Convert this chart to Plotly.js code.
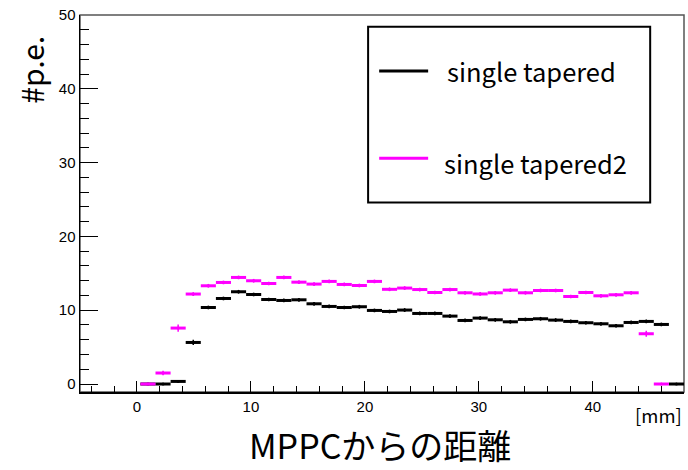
<!DOCTYPE html>
<html>
<head>
<meta charset="utf-8">
<script src="https://cdn.plot.ly/plotly-3.0.1.min.js"></script>
<style>
  html, body { margin: 0; padding: 0; background: #fff; }
  #chart { width: 688px; height: 470px; }
</style>
</head>
<body>
<div id="chart"></div>
<script>
// Histogram binning: 40 bins between -5 and 48 mm
const nBins = 40;
const xLow = -5;
const xHigh = 48;

// Mean photo-electron count per bin (null = empty bin, not drawn)
const taperedValues = [
  null, null, null, null, 0, 0, 0.35, 5.63, 10.37, 11.59,
  12.5, 12.13, 11.45, 11.32, 11.41, 10.87, 10.51, 10.37, 10.47, 9.97,
  9.83, 10.02, 9.56, 9.56, 9.2, 8.61, 8.93, 8.7, 8.43, 8.75,
  8.84, 8.66, 8.48, 8.3, 8.16, 7.89, 8.34, 8.48, 8.07, 0
];
const taperedErrors = [
  0, 0, 0, 0, 0, 0, 0.15, 0.36, 0.25, 0.25,
  0.25, 0.25, 0.25, 0.25, 0.25, 0.25, 0.25, 0.25, 0.25, 0.25,
  0.25, 0.25, 0.25, 0.25, 0.25, 0.25, 0.25, 0.25, 0.25, 0.25,
  0.25, 0.25, 0.25, 0.25, 0.25, 0.25, 0.25, 0.25, 0.25, 0
];

const tapered2Values = [
  null, null, null, null, 0, 1.49, 7.58, 12.19, 13.31, 13.76,
  14.44, 13.99, 13.62, 14.44, 13.8, 13.54, 13.9, 13.49, 13.35, 13.9,
  12.83, 13.0, 12.8, 12.4, 12.8, 12.36, 12.2, 12.36, 12.72, 12.36,
  12.67, 12.67, 11.86, 12.4, 11.95, 12.09, 12.36, 6.81, 0, null
];
const tapered2Errors = [
  0, 0, 0, 0, 0, 0.3, 0.5, 0.25, 0.25, 0.25,
  0.25, 0.25, 0.25, 0.25, 0.25, 0.25, 0.25, 0.25, 0.25, 0.25,
  0.25, 0.25, 0.25, 0.25, 0.25, 0.25, 0.25, 0.25, 0.25, 0.25,
  0.25, 0.25, 0.25, 0.25, 0.25, 0.25, 0.25, 0.4, 0, 0
];

const seriesNames = ['single tapered', 'single tapered2'];
const xTitle = 'MPPCからの距離';
const yTitle = '#p.e.';
const xUnit = '[mm]';
const xTickValues = [0, 10, 20, 30, 40];
const yTickValues = [0, 10, 20, 30, 40, 50];

const binWidth = (xHigh - xLow) / nBins;
const binCenters = Array.from({length: nBins}, (_, i) => xLow + (i + 0.5) * binWidth);

function histTrace(values, errors, color) {
  const x = [], y = [], ey = [], ex = [];
  values.forEach((v, i) => {
    if (v === null) return;
    x.push(binCenters[i]);
    y.push(v);
    ey.push(errors[i]);
    ex.push(binWidth / 2);
  });
  return {
    type: 'scatter',
    mode: 'markers',
    x: x,
    y: y,
    showlegend: false,
    hoverinfo: 'x+y',
    marker: {color: color, size: 3},
    error_x: {type: 'data', array: ex, symmetric: true, color: color, thickness: 3, width: 0},
    error_y: {type: 'data', array: ey, symmetric: true, color: color, thickness: 1.5, width: 0}
  };
}

const traces = [
  histTrace(taperedValues, taperedErrors, '#000000'),
  histTrace(tapered2Values, tapered2Errors, '#ff00ff')
];

const labelFont = {family: '"Noto Sans CJK JP", "Noto Sans", sans-serif', color: '#000'};
const tickFont = {family: '"Liberation Sans", Arial, sans-serif', size: 15, color: '#000'};

const layout = {
  width: 688,
  height: 470,
  margin: {l: 80, r: 4, t: 15, b: 78, pad: 0},
  paper_bgcolor: '#fff',
  plot_bgcolor: '#fff',
  showlegend: false,
  xaxis: {
    range: [xLow, xHigh],
    tickmode: 'array',
    tickvals: xTickValues,
    ticks: 'inside',
    ticklen: 11,
    tickwidth: 1,
    tickcolor: '#000',
    minor: {dtick: 2, tick0: 0, ticks: 'inside', ticklen: 6, tickcolor: '#000', showgrid: false},
    showline: true,
    linecolor: '#000',
    linewidth: 1.5,
    showgrid: false,
    zeroline: false,
    tickfont: tickFont,
    automargin: false
  },
  yaxis: {
    range: [-1.083, 50],
    tickmode: 'array',
    tickvals: yTickValues,
    ticks: 'inside',
    ticklen: 18,
    tickwidth: 1,
    tickcolor: '#000',
    minor: {dtick: 2, tick0: 0, ticks: 'inside', ticklen: 9, tickcolor: '#000', showgrid: false},
    showline: true,
    linecolor: '#000',
    linewidth: 1.5,
    showgrid: false,
    zeroline: false,
    tickfont: tickFont,
    automargin: false
  },
  shapes: [
    // plot frame (top and right edges)
    {type: 'rect', xref: 'paper', yref: 'paper', x0: 0, x1: 1, y0: 0, y1: 1,
     line: {color: '#555', width: 1.5}, layer: 'below'},
    // legend box
    {type: 'rect', xref: 'paper', yref: 'paper', x0: 0.477, x1: 0.944, y0: 0.5025, y1: 0.969,
     line: {color: '#000', width: 2}, fillcolor: '#fff', layer: 'above'},
    {type: 'line', xref: 'paper', yref: 'paper', x0: 0.4953, x1: 0.5764, y0: 0.8516, y1: 0.8516,
     line: {color: '#000000', width: 3}, layer: 'above'},
    {type: 'line', xref: 'paper', yref: 'paper', x0: 0.4953, x1: 0.5764, y0: 0.620, y1: 0.620,
     line: {color: '#ff00ff', width: 3}, layer: 'above'}
  ],
  annotations: [
    {text: seriesNames[0], xref: 'paper', yref: 'paper', x: 0.6045, y: 0.8540,
     xanchor: 'left', yanchor: 'middle', showarrow: false,
     font: Object.assign({size: 25.5}, labelFont)},
    {text: seriesNames[1], xref: 'paper', yref: 'paper', x: 0.600, y: 0.610,
     xanchor: 'left', yanchor: 'middle', showarrow: false,
     font: Object.assign({size: 25.5}, labelFont)},
    // axis titles
    {text: xTitle, xref: 'paper', yref: 'paper', x: 0.497, y: -0.140,
     xanchor: 'center', yanchor: 'middle', showarrow: false,
     font: Object.assign({size: 34}, labelFont)},
    {text: yTitle, xref: 'paper', yref: 'paper', x: -0.0810, y: 0.855,
     xanchor: 'center', yanchor: 'middle', textangle: -90, showarrow: false,
     font: Object.assign({size: 30}, labelFont)},
    {text: xUnit, xref: 'paper', yref: 'paper', x: 1, y: -0.0610,
     xanchor: 'right', yanchor: 'middle', showarrow: false,
     font: Object.assign({size: 18.5}, labelFont)}
  ]
};

Plotly.newPlot('chart', traces, layout, {staticPlot: true, displayModeBar: false});
</script>
</body>
</html>
